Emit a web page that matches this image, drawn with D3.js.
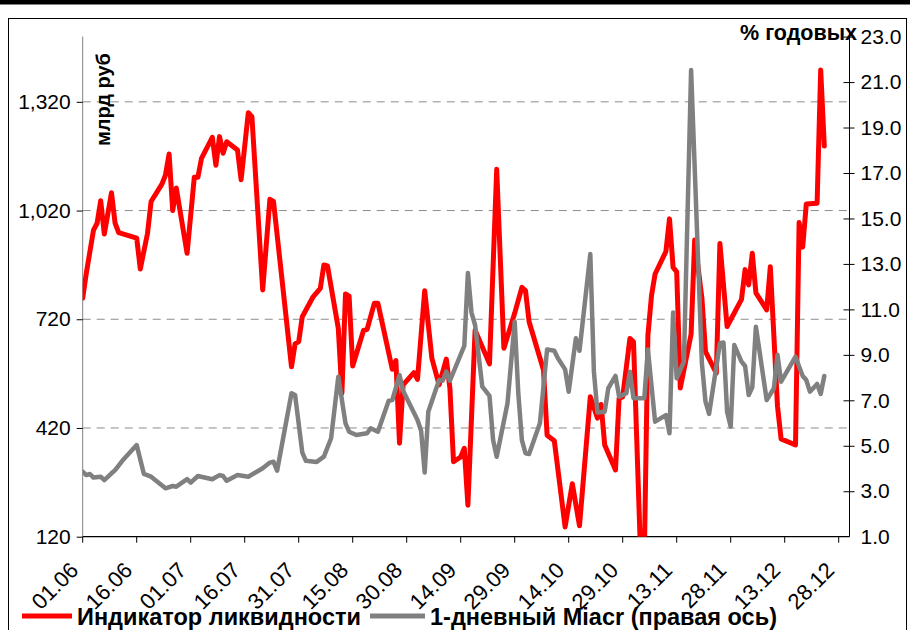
<!DOCTYPE html>
<html><head><meta charset="utf-8">
<script src="https://cdn.jsdelivr.net/npm/d3@7"></script>
<style>body{margin:0;background:#fff;overflow:hidden} text{font-family:"Liberation Sans",Arial,sans-serif}</style>
</head><body><svg id="c" width="910" height="630"></svg>
<script>
// ---- data ----
const xTickLabels = ["01.06","16.06","01.07","16.07","31.07","15.08","30.08","14.09","29.09","14.10","29.10","13.11","28.11","13.12","28.12"];
const leftTicks = [120, 420, 720, 1020, 1320];
const rightTicks = [1, 3, 5, 7, 9, 11, 13, 15, 17, 19, 21, 23];

const redDates = ["01.06","02.06","04.06","05.06","06.06","07.06","09.06","10.06","11.06","16.06","17.06","19.06","20.06","23.06","24.06","25.06","26.06","27.06","30.06",
"02.07","03.07","04.07","07.07","08.07","09.07","10.07","11.07","14.07","15.07","17.07","18.07","21.07","23.07","24.07","29.07","30.07","31.07",
"01.08","04.08","06.08","07.08","08.08","11.08","12.08","13.08","14.08","15.08","18.08","19.08","21.08","22.08","26.08","27.08","28.08","29.08",
"01.09","02.09","04.09","06.09","08.09","10.09","11.09","12.09","14.09","15.09","16.09","18.09","22.09","24.09","26.09","29.09",
"01.10","02.10","03.10","07.10","08.10","10.10","13.10","15.10","17.10","20.10","22.10","23.10","24.10","27.10","28.10","29.10","31.10",
"01.11","03.11","04.11","05.11","06.11","07.11","10.11","11.11","12.11","13.11","14.11","17.11","18.11","20.11","21.11","24.11","25.11","27.11",
"01.12","02.12","03.12","04.12","05.12","08.12","09.12","11.12","12.12","16.12","17.12","18.12","19.12","22.12","23.12","24.12"];
const redValues = [778,847,966,985,1047,955,1069,985,959,944,859,957,1045,1093,1118,1176,1020,1082,902,
1112,1112,1164,1222,1145,1224,1178,1210,1187,1105,1290,1279,801,1051,1045,589,652,658,
727,782,805,870,867,695,516,790,784,591,689,692,764,764,582,606,378,539,
573,554,799,612,539,610,530,327,340,364,207,690,597,1134,640,737,
808,799,713,580,400,385,147,266,150,506,447,485,373,304,502,506,667,
658,60,60,675,785,845,907,997,863,851,530,679,939,778,631,571,929,700,
775,857,815,902,793,746,865,480,390,373,987,919,1038,1040,1408,1198];

const grayDates = ["01.06","02.06","03.06","04.06","06.06","07.06","09.06","10.06","12.06","16.06","18.06","20.06","24.06","26.06","27.06","30.06",
"01.07","03.07","07.07","09.07","10.07","11.07","14.07","17.07","21.07","23.07","24.07","25.07","29.07","30.07",
"01.08","02.08","05.08","07.08","09.08","11.08","13.08","14.08","16.08","19.08","20.08","22.08","25.08","26.08","28.08","29.08",
"02.09","03.09","04.09","05.09","08.09","09.09","10.09","11.09","15.09","16.09","17.09","18.09","20.09","22.09","23.09","24.09","27.09","29.09","30.09",
"01.10","02.10","03.10","06.10","08.10","10.10","11.10","13.10","14.10","16.10","17.10","20.10","21.10","22.10","24.10","25.10","27.10","28.10","30.10","31.10",
"01.11","04.11","05.11","07.11","10.11","11.11","12.11","13.11","15.11","17.11","20.11","21.11","22.11","25.11","26.11","27.11","28.11","29.11",
"01.12","02.12","03.12","04.12","05.12","08.12","10.12","11.12","12.12","16.12","18.12","19.12","20.12","22.12","23.12","24.12"];
const grayValues = [3.86,3.71,3.76,3.6,3.64,3.49,3.79,3.93,4.34,5.03,3.76,3.64,3.13,3.23,3.2,3.53,
3.38,3.67,3.53,3.71,3.67,3.46,3.71,3.64,4.01,4.26,4.3,3.9,7.31,7.23,
4.7,4.34,4.29,4.52,5.33,8.04,5.99,5.62,5.47,5.55,5.77,5.62,6.98,7.01,8.11,7.42,
6.13,5.66,3.82,6.5,7.89,7.86,8.26,7.86,9.39,12.6,10.86,10.31,7.6,7.19,5.25,4.52,6.87,10.46,7.31,
5.25,4.67,4.64,5.99,9.24,9.18,8.85,8.36,7.38,9.73,9.18,13.44,8.26,6.46,6.5,7.53,8.07,7.16,7.31,8.26,
7.09,7.09,9.24,6.06,6.35,5.55,10.86,7.97,8.7,21.53,8.63,6.94,6.4,9.51,9.54,6.5,5.84,9.43,
8.7,8.51,7.23,7.57,10.24,7.01,7.53,9.0,7.82,8.92,8.07,7.89,7.38,7.72,7.28,8.07];

const seriesNames = ["Индикатор ликвидности", "1-дневный Miacr (правая ось)"];

// ---- chart ----
const svg = d3.select("#c");
const parse = d3.timeParse("%d.%m");
const L = 82.7, R = 849.5, T = 36.6, B = 536.7;
const x = d3.scaleTime().domain([parse("01.06"), parse("31.12")]).range([L, R]);
const yL = d3.scaleLinear().domain([120, 1500]).range([B, T]);
const yR = d3.scaleLinear().domain([1, 23]).range([B, T]);

// frame
svg.append("rect").attr("x",0).attr("y",0).attr("width",910).attr("height",4.5).attr("fill","#000");
svg.append("rect").attr("x",8.5).attr("y",18.5).attr("width",898).attr("height",640)
  .attr("fill","none").attr("stroke","#000").attr("stroke-width",1);

// gridlines
svg.append("g").selectAll("line").data(leftTicks.slice(1)).join("line")
  .attr("x1",L).attr("x2",R).attr("y1",d=>yL(d)).attr("y2",d=>yL(d))
  .attr("stroke","#8c8c8c").attr("stroke-width",1).attr("stroke-dasharray","8,6");

// left axis
const gl = svg.append("g").attr("transform",`translate(${L},0)`)
  .call(d3.axisLeft(yL).tickValues(leftTicks).tickFormat(d3.format(",")).tickSize(6).tickPadding(6));
gl.select(".domain").attr("stroke","#808080").attr("d",`M0,${T}V${B}`);
gl.selectAll(".tick line").attr("stroke","#000");
gl.selectAll("text").attr("font-size",21).attr("fill","#000").attr("font-family","Liberation Sans, Arial, sans-serif");

// right axis
const gr = svg.append("g").attr("transform",`translate(${R},0)`)
  .call(d3.axisRight(yR).tickValues(rightTicks).tickFormat(d3.format(".1f")).tickSize(5).tickPadding(6));
gr.select(".domain").attr("stroke","#000").attr("d",`M0,${T-4}V${B}`);
gr.selectAll(".tick line").attr("stroke","#000").attr("x1",-6).attr("x2",5);
gr.selectAll(".tick").filter(d=>d===1).select("line").remove();
gr.selectAll("text").attr("font-size",21).attr("fill","#000").attr("font-family","Liberation Sans, Arial, sans-serif");

// bottom axis
const xt = xTickLabels.map(parse);
const gb = svg.append("g").attr("transform",`translate(0,${B})`);
gb.append("line").attr("x1",L).attr("x2",R).attr("stroke","#000").attr("stroke-width",1.2);
gb.selectAll("line.t").data(xt).join("line").attr("class","t")
  .attr("x1",d=>x(d)).attr("x2",d=>x(d)).attr("y1",0).attr("y2",6).attr("stroke","#000");
gb.selectAll("text").data(xTickLabels).join("text")
  .attr("transform",(d,i)=>`translate(${x(xt[i])-3},${35}) rotate(-45)`)
  .attr("text-anchor","end").attr("font-size",22).attr("fill","#000").text(d=>d);

// clip
svg.append("clipPath").attr("id","clip").append("rect").attr("x",L).attr("y",T).attr("width",R-L).attr("height",B-T);

const redData = redDates.map((d,i)=>({d:parse(d), v:redValues[i]}));
const grayData = grayDates.map((d,i)=>({d:parse(d), v:grayValues[i]}));

svg.append("path").datum(redData).attr("clip-path","url(#clip)")
  .attr("d", d3.line().x(p=>x(p.d)).y(p=>yL(p.v)))
  .attr("fill","none").attr("stroke","#ff0000").attr("stroke-width",5).attr("stroke-linejoin","round").attr("stroke-linecap","round");
svg.append("path").datum(grayData).attr("clip-path","url(#clip)")
  .attr("d", d3.line().x(p=>x(p.d)).y(p=>yR(p.v)))
  .attr("fill","none").attr("stroke","#808080").attr("stroke-width",4.5).attr("stroke-linejoin","round").attr("stroke-linecap","round");

// axis titles
svg.append("text").attr("x",857).attr("y",40).attr("text-anchor","end")
  .attr("font-size",21.5).attr("font-weight","bold").text("% годовых");
svg.append("text").attr("transform","translate(110,146) rotate(-90)")
  .attr("font-size",20).attr("font-weight","bold").text("млрд руб");

// legend
const lg = svg.append("g");
lg.append("line").attr("x1",22).attr("x2",72).attr("y1",616).attr("y2",616)
  .attr("stroke","#ff0000").attr("stroke-width",5);
lg.append("text").attr("x",77).attr("y",625).attr("font-size",23.5).attr("font-weight","bold").text(seriesNames[0]);
lg.append("line").attr("x1",370).attr("x2",425).attr("y1",616).attr("y2",616)
  .attr("stroke","#808080").attr("stroke-width",5);
lg.append("text").attr("x",430).attr("y",625).attr("font-size",23.5).attr("font-weight","bold").text(seriesNames[1]);
</script></body></html>
